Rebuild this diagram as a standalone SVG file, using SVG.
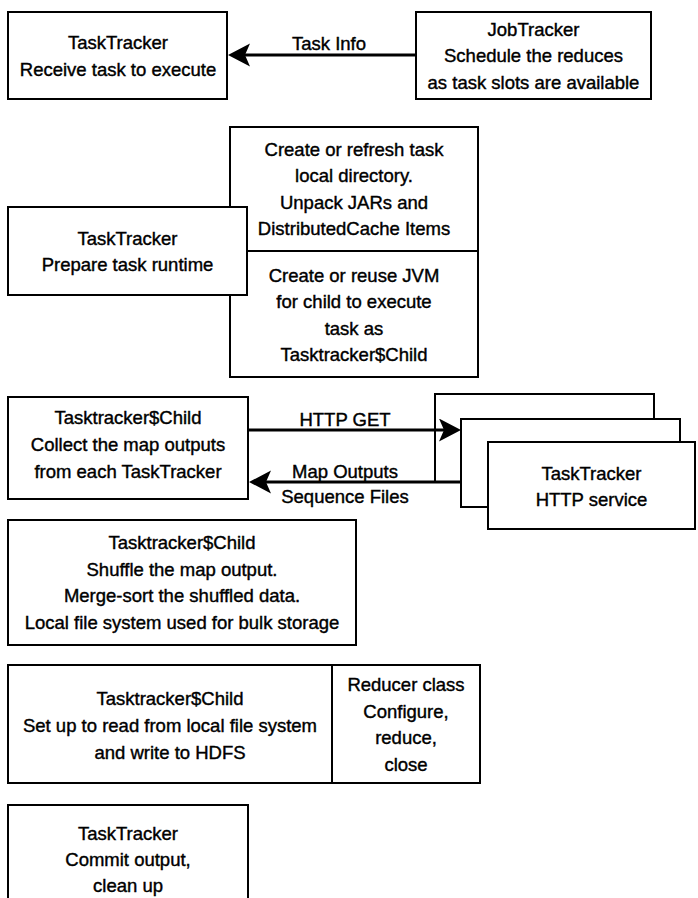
<svg xmlns="http://www.w3.org/2000/svg" width="698" height="898" viewBox="0 0 698 898">
<style>
.box{fill:#fff;stroke:#000;stroke-width:2}
.div{stroke:#000;stroke-width:2;fill:none}
.t{font-family:"Liberation Sans",Arial,sans-serif;font-size:18.5px;text-anchor:middle;fill:#000;stroke:#000;stroke-width:0.4}
.arr{stroke:#000;stroke-width:3;fill:none;marker-end:url(#ah)}
</style>
<defs>
<marker id="ah" markerUnits="userSpaceOnUse" markerWidth="24" markerHeight="24" refX="14" refY="11.5" orient="auto">
<path d="M0,0 L22,11.5 L0,23 L5,11.5 Z" fill="#000"/>
</marker>
</defs>
<rect width="698" height="898" fill="#fff"/>
<g id="receive">
<rect class="box" x="8" y="12" width="219" height="87"/>
<text class="t" x="118" y="48.5">TaskTracker</text>
<text class="t" x="118" y="75.5">Receive task to execute</text>
</g>
<g id="jobtracker">
<rect class="box" x="416" y="12" width="235" height="87"/>
<text class="t" x="533.5" y="35.5">JobTracker</text>
<text class="t" x="533.5" y="62">Schedule the reduces</text>
<text class="t" x="533.5" y="88.5">as task slots are available</text>
</g>
<g id="runtime-steps">
<rect class="box" x="230" y="127" width="248" height="250"/>
<line class="div" x1="230" y1="251" x2="478" y2="251"/>
<text class="t" x="354" y="155.5">Create or refresh task</text>
<text class="t" x="354" y="181.5">local directory.</text>
<text class="t" x="354" y="208.5">Unpack JARs and</text>
<text class="t" x="354" y="234.5">DistributedCache Items</text>
<text class="t" x="354" y="281.5">Create or reuse JVM</text>
<text class="t" x="354" y="307.5">for child to execute</text>
<text class="t" x="354" y="334.5">task as</text>
<text class="t" x="354" y="360.5">Tasktracker$Child</text>
</g>
<g id="prepare">
<rect class="box" x="8" y="207" width="239" height="88"/>
<text class="t" x="127.5" y="244.5">TaskTracker</text>
<text class="t" x="127.5" y="270.5">Prepare task runtime</text>
</g>
<g id="collect">
<rect class="box" x="8" y="397" width="240" height="102"/>
<text class="t" x="128" y="423.5">Tasktracker$Child</text>
<text class="t" x="128" y="450.5">Collect the map outputs</text>
<text class="t" x="128" y="477.5">from each TaskTracker</text>
</g>
<g id="http-service">
<rect class="box" x="435" y="394" width="219" height="88"/>
<rect class="box" x="461" y="419" width="219" height="88"/>
<rect class="box" x="488" y="442" width="207" height="87"/>
<text class="t" x="591.5" y="479.5">TaskTracker</text>
<text class="t" x="591.5" y="505.5">HTTP service</text>
</g>
<g id="shuffle">
<rect class="box" x="8" y="520" width="348" height="125"/>
<text class="t" x="182" y="548.5">Tasktracker$Child</text>
<text class="t" x="182" y="575.5">Shuffle the map output.</text>
<text class="t" x="182" y="601.5">Merge-sort the shuffled data.</text>
<text class="t" x="182" y="628.5">Local file system used for bulk storage</text>
</g>
<g id="reduce">
<rect class="box" x="8" y="665" width="472" height="118"/>
<line class="div" x1="332" y1="665" x2="332" y2="783"/>
<text class="t" x="170" y="704.5">Tasktracker$Child</text>
<text class="t" x="170" y="731.5">Set up to read from local file system</text>
<text class="t" x="170" y="758.5">and write to HDFS</text>
<text class="t" x="406" y="690.5">Reducer class</text>
<text class="t" x="406" y="717.5">Configure,</text>
<text class="t" x="406" y="743.5">reduce,</text>
<text class="t" x="406" y="770.5">close</text>
</g>
<g id="commit">
<rect class="box" x="8" y="805" width="240" height="110"/>
<text class="t" x="128" y="839.5">TaskTracker</text>
<text class="t" x="128" y="865.5">Commit output,</text>
<text class="t" x="128" y="891.5">clean up</text>
</g>
<g id="connectors">
<line class="arr" x1="416" y1="55" x2="236" y2="55"/>
<text class="t" x="329" y="49.5">Task Info</text>
<line class="arr" x1="248" y1="430" x2="453" y2="430"/>
<text class="t" x="345" y="425.5">HTTP GET</text>
<line class="arr" x1="461" y1="482" x2="257" y2="482"/>
<text class="t" x="345" y="477.5">Map Outputs</text>
<text class="t" x="345" y="502.5">Sequence Files</text>
</g>
</svg>
